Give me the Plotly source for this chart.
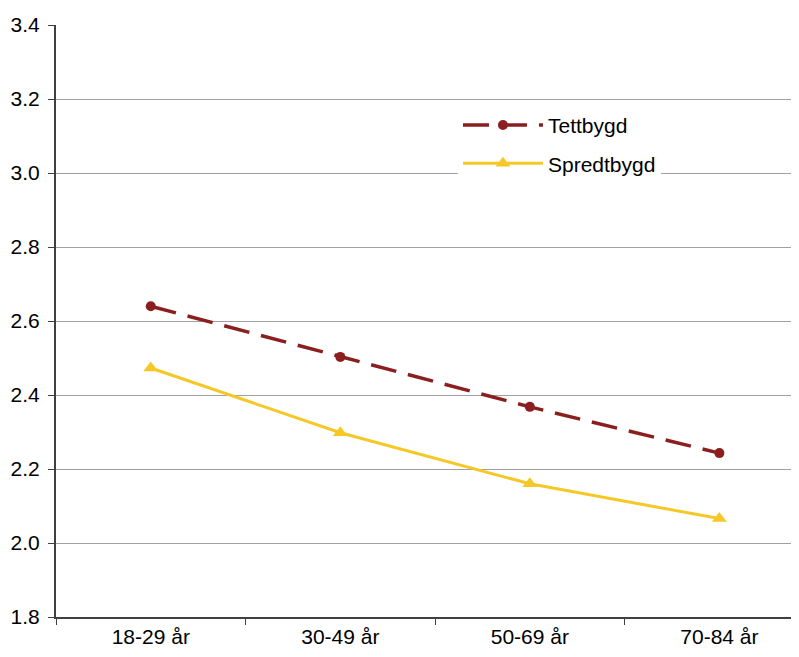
import plotly.graph_objects as go

categories = ["18-29 år", "30-49 år", "50-69 år", "70-84 år"]
tettbygd = [2.64, 2.503, 2.368, 2.243]
spredtbygd = [2.473, 2.298, 2.16, 2.066]
y_ticks = [1.8, 2.0, 2.2, 2.4, 2.6, 2.8, 3.0, 3.2, 3.4]

font = "Liberation Sans, Arial, sans-serif"

fig = go.Figure()
fig.add_trace(go.Scatter(
    x=categories, y=tettbygd, name="Tettbygd", mode="lines+markers",
    line=dict(color="#8B1F1F", width=3.5, dash="26px,12px"),
    marker=dict(symbol="circle", size=10, color="#8B1F1F"),
    legendgroup="a",
))
fig.add_trace(go.Scatter(
    x=categories, y=spredtbygd, name="Spredtbygd", mode="lines+markers",
    line=dict(color="#F5C828", width=3),
    marker=dict(symbol="triangle-up", size=13, color="#F5C828"),
    legendgroup="b",
))

fig.update_layout(
    width=799, height=657,
    margin=dict(l=48, r=8, t=17, b=48),
    paper_bgcolor="white", plot_bgcolor="white",
    font=dict(family=font, size=21, color="#000000"),
    showlegend=True,
    legend=dict(
        x=0.541, y=0.865, xanchor="left", yanchor="top",
        bgcolor="white", borderwidth=0,
        font=dict(family=font, size=21, color="#000000"),
        itemwidth=80, traceorder="grouped", tracegroupgap=8,
    ),
    xaxis=dict(
        type="category", range=[-0.5, 3.42], automargin=False,
        showgrid=False, showline=True, linecolor="#404040", linewidth=2,
        ticks="outside", tickson="boundaries", ticklen=6, tickcolor="#404040",
        tickfont=dict(family=font, size=21, color="#000000"),
    ),
    yaxis=dict(
        range=[1.8, 3.4], tickvals=y_ticks, ticktext=[f"{v:.1f}" for v in y_ticks],
        automargin=False,
        showgrid=True, gridcolor="#A0A0A0", gridwidth=1,
        showline=True, linecolor="#404040", linewidth=2,
        ticks="outside", ticklen=6, tickcolor="#404040",
        ticklabelstandoff=4,
        tickfont=dict(family=font, size=21, color="#000000"),
        zeroline=False,
    ),
)

fig.write_html("out.html")
